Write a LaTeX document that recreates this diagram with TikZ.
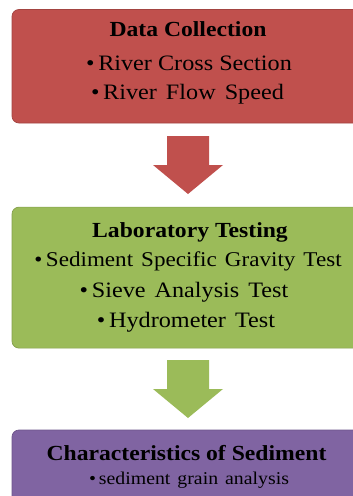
\documentclass[tikz,border=0pt]{standalone}
\usepackage{fontspec}
\setmainfont[FakeStretch=1.1]{Liberation Serif}
\definecolor{stepred}{HTML}{C0504D}
\definecolor{stepgreen}{HTML}{9BBB59}
\definecolor{steppurple}{HTML}{8064A2}
\newcommand\wordgap{\hspace{9pt}}
\tikzset{
  stagebox/.style={rectangle, rounded corners=7pt, minimum width=352pt,
    inner sep=0pt, fill=#1, draw=#1!85!black, line width=0.7pt},
  headtext/.style={font=\fontsize{21.5}{26}\selectfont\bfseries, anchor=base, inner sep=0pt},
  itemtext/.style={font=\fontsize{22}{26}\selectfont, anchor=base, inner sep=0pt},
  pics/downarrow/.style={code={
    \fill[#1] (-21,0) -- (21,0) -- (21,29) -- (35,29) -- (0,58)
      -- (-35,29) -- (-21,29) -- cycle;}}
}
\begin{document}
\begin{tikzpicture}[x=1pt, y=-1pt]
\useasboundingbox (0,0) rectangle (353,496);
\clip (0,0) rectangle (353,496);

% stage 1: data collection
\node[stagebox=stepred, minimum height=113.5pt] (collect) at (188,66.25) {};
\node[headtext] (collecthead) at (188,36.7) {Data Collection};
\node[itemtext] (collect1) at (189,70.7) {\textbullet\,River Cross Section};
\node[itemtext] (collect2) at (187.5,99.3) {\textbullet\,River\wordgap Flow\wordgap Speed};

% arrow into stage 2
\pic at (188,136) {downarrow=stepred};

% stage 2: laboratory testing
\node[stagebox=stepgreen, minimum height=141pt] (lab) at (188,277.6) {};
\node[headtext] (labhead) at (190,237) {Laboratory Testing};
\node[itemtext, font=\fontsize{21}{26}\selectfont] (lab1) at (188,266)
  {\textbullet\,Sediment\hspace{8pt}Specific\hspace{8pt}Gravity\hspace{8pt}Test};
\node[itemtext] (lab2) at (184,297) {\textbullet\,Sieve\wordgap Analysis\wordgap Test};
\node[itemtext] (lab3) at (186,327) {\textbullet\,Hydrometer\wordgap Test};

% arrow into stage 3
\pic at (188,360) {downarrow=stepgreen};

% stage 3: characteristics of sediment
\node[stagebox=steppurple, minimum height=120pt] (chars) at (188,490) {};
\node[headtext] (charshead) at (186.5,460) {Characteristics of Sediment};
\node[itemtext, font=\fontsize{18}{22}\selectfont] (chars1) at (189,484)
  {\textbullet\,sediment\hspace{7pt}grain\hspace{7pt}analysis};
\end{tikzpicture}
\end{document}
